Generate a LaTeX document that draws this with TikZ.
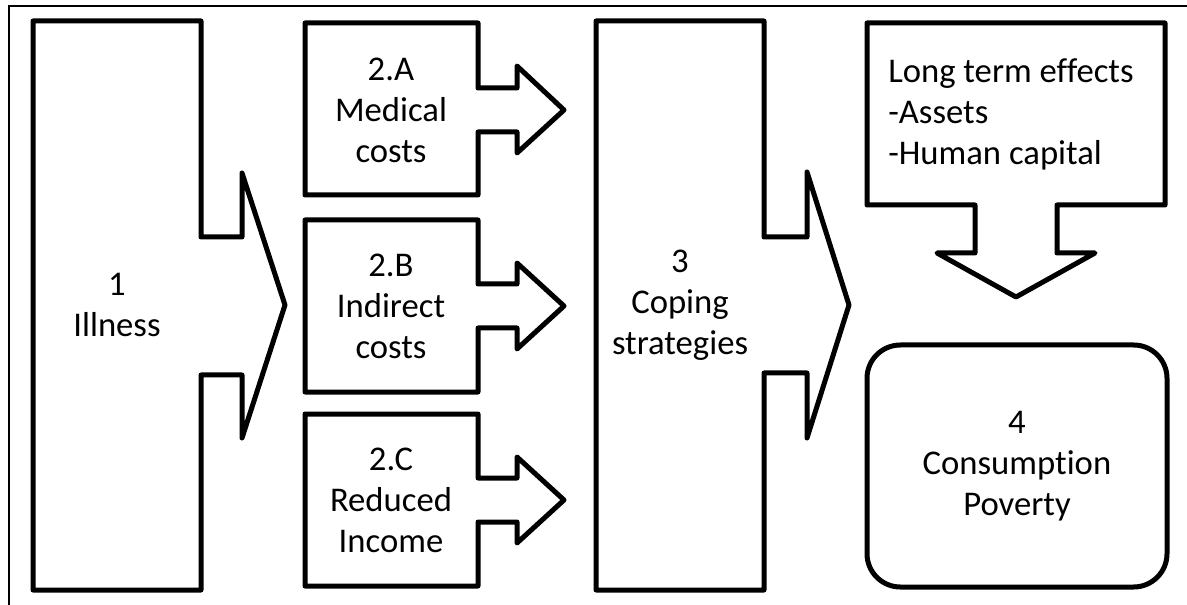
\documentclass[tikz,border=0pt]{standalone}
\usepackage{fontspec}
\setmainfont[Ligatures=NoCommon]{Carlito}
\tikzset{outline/.style={line width=3.75pt, line join=round},
  blocktext/.style={align=center, inner sep=0pt, font=\fontsize{26}{30.75}\selectfont}}

\begin{document}
\begin{tikzpicture}[x=0.75pt, y=-0.75pt]
    \useasboundingbox (0,0) rectangle (1187,605);

    % Frame
    \draw [line width=1.5pt] (9,607) -- (9,6) -- (1190,6);

    % Shapes
    \draw [outline] (33,21) -- (201,21) -- (201,237) -- (242,237) -- (242,173) -- (285,305) -- (242,438) -- (242,375) -- (201,375) -- (201,590) -- (33,590) -- cycle;
    \draw [outline] (305,23) -- (478,23) -- (478,88) -- (517,88) -- (517,66) -- (564,110) -- (517,153) -- (517,132) -- (478,132) -- (478,195) -- (305,195) -- cycle;
    \draw [outline] (305,220) -- (478,220) -- (478,284) -- (517,284) -- (517,263) -- (564,306) -- (517,349) -- (517,328) -- (478,328) -- (478,392) -- (305,392) -- cycle;
    \draw [outline] (305,414) -- (478,414) -- (478,478) -- (517,478) -- (517,457) -- (564,500) -- (517,543) -- (517,522) -- (478,522) -- (478,586) -- (305,586) -- cycle;
    \draw [outline] (596,21) -- (764,21) -- (764,237) -- (807,237) -- (807,172) -- (849,305) -- (807,438) -- (807,373) -- (764,373) -- (764,590) -- (596,590) -- cycle;
    \draw [outline] (867,23) -- (1165,23) -- (1165,205) -- (1057,205) -- (1057,253) -- (1095,253) -- (1016,297) -- (937,253) -- (975,253) -- (975,205) -- (867,205) -- cycle;

    % Texts
    \node (illness) [blocktext] at (117,305) {1\\Illness};
    \node (medical) [blocktext] at (391,110) {2.A\\Medical\\costs};
    \node (indirect) [blocktext] at (391,306) {2.B\\Indirect\\costs};
    \node (reduced) [blocktext] at (391,500) {2.C\\Reduced\\Income};
    \node (coping) [blocktext] at (680,305) {3\\Coping\\strategies};
    \node (longterm) [blocktext, align=left, anchor=west] at (888,114) {Long term effects\\-Assets\\-Human capital};
    \node (poverty) [blocktext, outline, draw, rounded corners=25pt, minimum width=225pt, minimum height=181.5pt] at (1017,466) {4\\Consumption\\Poverty};

\end{tikzpicture}
\end{document}
